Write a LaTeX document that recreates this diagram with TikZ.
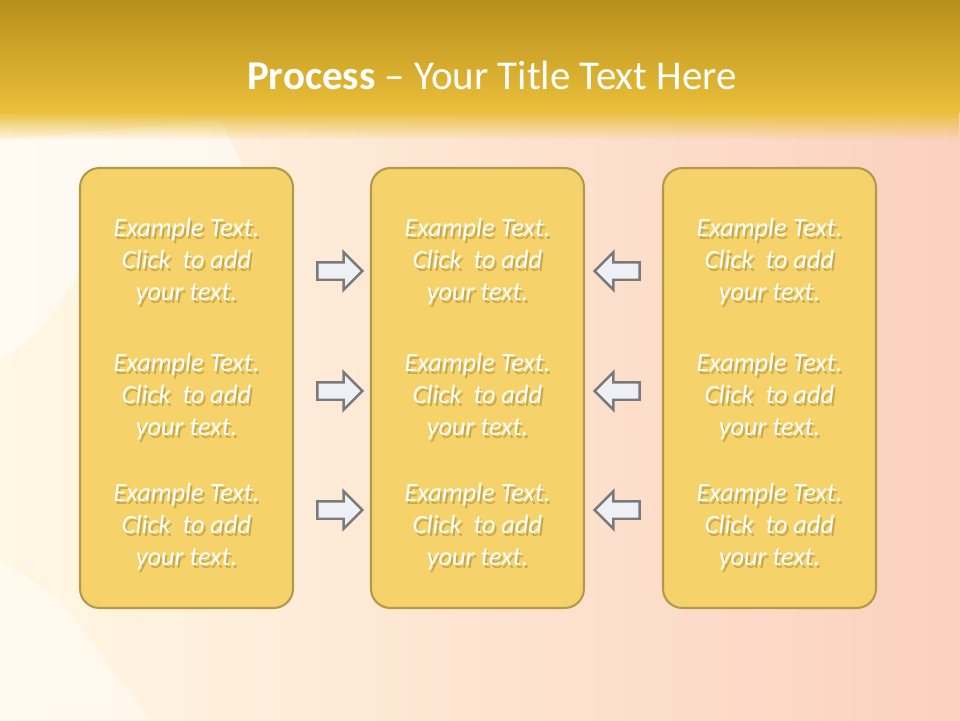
\documentclass[tikz,border=0pt]{standalone}
\usepackage{fontspec}
\setmainfont{Carlito}
\usetikzlibrary{shapes.arrows,fadings}
\definecolor{gold}{HTML}{B88F1C}
\definecolor{goldlight}{HTML}{EABF3A}
\definecolor{cream}{HTML}{FFF8E4}
\definecolor{peach}{HTML}{FBD1BE}
\definecolor{boxfill}{HTML}{F6D36A}
\definecolor{boxline}{HTML}{B39A4A}
\definecolor{arrowfill}{HTML}{EEF0F5}
\definecolor{arrowline}{HTML}{7A7A7A}
\definecolor{txtshade}{HTML}{8A6A20}
\tikzset{
	panel/.style={draw=boxline, fill=boxfill, line width=1.2pt,
		rounded corners=11pt, minimum width=4.26cm, minimum height=8.8cm},
	txt/.style={text=white, align=center,
		font=\itshape\fontsize{15}{18.2}\selectfont},
	txtshadow/.style={txt, text=txtshade, opacity=0.4},
	blockarrow/.style={single arrow, draw=arrowline, fill=arrowfill,
		line width=1.4pt, minimum height=0.9cm, inner sep=0.15cm,
		single arrow head extend=0.2cm, single arrow tip angle=90}
}
\begin{document}
\begin{tikzpicture}[x=0.02cm, y=-0.02cm]
	\useasboundingbox (0,0) rectangle (960,720);
	% background
	\shade[left color=cream, right color=peach] (0,0) rectangle (960,720);
	\fill[white, opacity=0.55] (0,140) -- (220,120) -- (260,200) -- (120,215)
		-- (40,330) -- (0,360) -- cycle;
	\fill[white, opacity=0.4] (0,560) -- (60,600) -- (150,720) -- (0,720) -- cycle;
	\shade[top color=gold, bottom color=goldlight] (0,0) rectangle (960,112);
	\fill[goldlight, path fading=south] (0,111) rectangle (960,140);
	\node[text=white, font=\fontsize{23.3}{27}\selectfont] (title) at (492,75)
		{\textbf{Process} -- Your Title Text Here};
	% panels
	\foreach \i/\x in {1/186.5,2/477.5,3/769.5} {
		\node[panel] (p\i) at (\x,388) {};
		\foreach \j/\y in {1/261,2/396,3/526} {
			\node[txtshadow] (s\i\j) at (\x+2,\y+3)
				{Example Text.\\Click\ \ to add\\your text.};
			\node[txt] (t\i\j) at (\x,\y)
				{Example Text.\\Click\ \ to add\\your text.};
		}
	}
	% arrows
	\foreach \j/\y in {1/271,2/391,3/510} {
		\node[blockarrow] (r\j) at (335.5,\y) {};
		\node[blockarrow, shape border rotate=180] (l\j) at (621.5,\y) {};
	}
\end{tikzpicture}
\end{document}
